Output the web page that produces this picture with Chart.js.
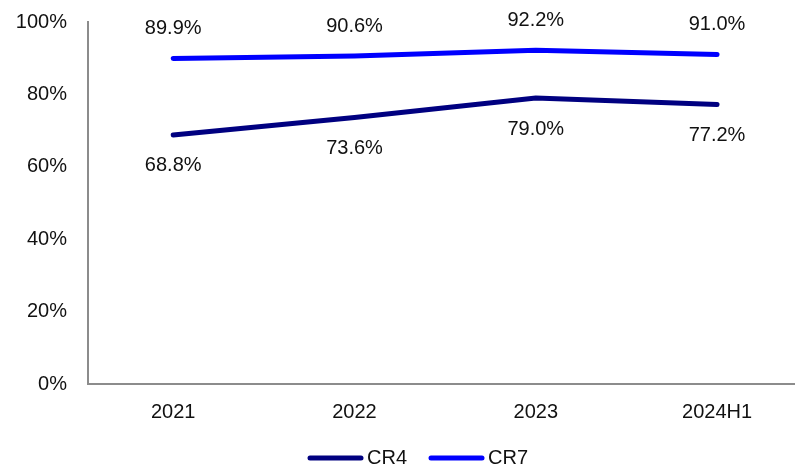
<!DOCTYPE html>
<html>
<head>
<meta charset="utf-8">
<script src="https://cdn.jsdelivr.net/npm/chart.js@4/dist/chart.umd.min.js"></script>
<style>
  html, body { margin: 0; padding: 0; background: #fff; }
  #wrap { width: 795px; height: 466px; }
</style>
</head>
<body>
<div id="wrap"><canvas id="c" width="795" height="466"></canvas></div>
<script>
// Concentration ratios by period
const categories = ['2021', '2022', '2023', '2024H1'];
const cr4 = [68.8, 73.6, 79.0, 77.2];
const cr7 = [89.9, 90.6, 92.2, 91.0];
const yTicks = [0, 20, 40, 60, 80, 100];

const FONT = "'Liberation Sans', Arial, sans-serif";
const FONT_SIZE = 20;
const AXIS_GREY = '#8c8c8c';
const seriesDefs = [
  { label: 'CR4', values: cr4, color: '#000080', labelPos: 'below' },
  { label: 'CR7', values: cr7, color: '#0000ff', labelPos: 'above' }
];

// value labels next to each point
const valueLabels = {
  id: 'valueLabels',
  afterDatasetsDraw(chart) {
    const ctx = chart.ctx;
    ctx.save();
    ctx.font = FONT_SIZE + 'px ' + FONT;
    ctx.fillStyle = '#111';
    ctx.textAlign = 'center';
    ctx.textBaseline = 'middle';
    chart.data.datasets.forEach((ds, i) => {
      const meta = chart.getDatasetMeta(i);
      meta.data.forEach((pt, j) => {
        const v = ds.data[j].y;
        const dy = seriesDefs[i].labelPos === 'above' ? -30 : 31;
        ctx.fillText(v.toFixed(1) + '%', pt.x, pt.y + dy);
      });
    });
    ctx.restore();
  }
};

// legend row along the bottom
const bottomLegend = {
  id: 'bottomLegend',
  afterDraw(chart) {
    const ctx = chart.ctx;
    ctx.save();
    ctx.font = FONT_SIZE + 'px ' + FONT;
    ctx.textBaseline = 'middle';
    const y = 458;
    let x = 308;
    chart.data.datasets.forEach((ds) => {
      ctx.strokeStyle = ds.borderColor;
      ctx.lineWidth = 5;
      ctx.lineCap = 'round';
      ctx.beginPath();
      ctx.moveTo(x + 2, y);
      ctx.lineTo(x + 53, y);
      ctx.stroke();
      ctx.fillStyle = '#111';
      ctx.textAlign = 'left';
      ctx.fillText(ds.label, x + 59, y);
      x += 121;
    });
    ctx.restore();
  }
};

new Chart(document.getElementById('c'), {
  type: 'line',
  data: {
    datasets: seriesDefs.map(s => ({
      label: s.label,
      data: s.values.map((v, i) => ({ x: i, y: v })),
      borderColor: s.color,
      backgroundColor: s.color,
      borderWidth: 5,
      borderCapStyle: 'round',
      tension: 0,
      pointRadius: 0,
      fill: false
    }))
  },
  options: {
    responsive: false,
    animation: false,
    layout: { padding: { top: 22, left: 0, right: 0, bottom: 0 } },
    plugins: { legend: { display: false }, tooltip: { enabled: false } },
    scales: {
      x: {
        type: 'linear',
        min: -0.47,
        max: 3.43,
        grid: { display: false, drawTicks: false },
        border: { display: true, color: AXIS_GREY, width: 2 },
        afterBuildTicks(scale) { scale.ticks = categories.map((_, i) => ({ value: i })); },
        afterFit(scale) {
          scale.height = 82;
          scale.paddingLeft = 0;
          scale.paddingRight = 0;
        },
        ticks: {
          padding: 16,
          color: '#111',
          font: { family: FONT, size: FONT_SIZE },
          callback: (v) => categories[v]
        }
      },
      y: {
        min: 0,
        max: 100,
        grid: { display: false, drawTicks: false },
        border: { display: true, color: AXIS_GREY, width: 2 },
        afterBuildTicks(scale) { scale.ticks = yTicks.map(v => ({ value: v })); },
        afterFit(scale) {
          scale.width = 88;
          scale.paddingTop = 0;
          scale.paddingBottom = 0;
        },
        ticks: {
          padding: 21,
          color: '#111',
          font: { family: FONT, size: FONT_SIZE },
          callback: (v) => v + '%'
        }
      }
    }
  },
  plugins: [valueLabels, bottomLegend]
});
</script>
</body>
</html>
